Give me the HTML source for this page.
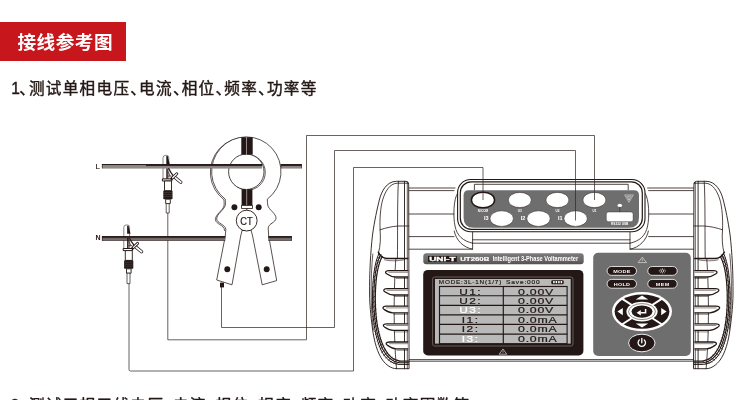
<!DOCTYPE html>
<html><head><meta charset="utf-8"><title>接线参考图</title>
<style>
html,body{margin:0;padding:0;background:#fff;}
body{width:750px;height:400px;overflow:hidden;font-family:"Liberation Sans","Noto Sans CJK SC",sans-serif;}
svg{display:block;will-change:transform;}
</style></head><body>
<svg width="750" height="400" viewBox="0 0 750 400">
<defs>
<linearGradient id="barL" x1="0" y1="0" x2="0" y2="1">
<stop offset="0" stop-color="#231815"/><stop offset="0.34" stop-color="#2e2421"/><stop offset="0.44" stop-color="#878280"/><stop offset="0.9" stop-color="#918d8c"/><stop offset="1" stop-color="#7a7573"/>
</linearGradient>
<linearGradient id="barL0" x1="0" y1="0" x2="0" y2="1">
<stop offset="0" stop-color="#231815"/><stop offset="0.25" stop-color="#2e2421"/><stop offset="0.33" stop-color="#8b8684"/><stop offset="0.9" stop-color="#918d8c"/><stop offset="1" stop-color="#7a7573"/>
</linearGradient>
<linearGradient id="barN" x1="0" y1="0" x2="0" y2="1">
<stop offset="0" stop-color="#231815"/><stop offset="0.4" stop-color="#3b3230"/><stop offset="0.6" stop-color="#8d8886"/><stop offset="0.78" stop-color="#6d6866"/><stop offset="1" stop-color="#2b211e"/>
</linearGradient>
</defs>
<rect x="0" y="22" width="126" height="39" fill="#c8161d"/>
<text x="17.6 36.6 55.7 74.8 93.9" y="48.8" font-family='"Liberation Sans","Noto Sans CJK SC",sans-serif' font-size="18.6" font-weight="700" fill="#fff">接线参考图</text>
<text x="11.2 19.3 28.9 45.8 62.7 79.6 96.5 113.4 130.3 139.1 156.0 172.9 181.7 198.6 215.5 224.3 241.2 258.1 266.9 283.8 300.7" y="94.4" font-family='"Liberation Sans","Noto Sans CJK SC",sans-serif' font-size="15.6" font-weight="400" fill="#231815" stroke="#231815" stroke-width="0.42" stroke-linejoin="round">1、测试单相电压、电流、相位、频率、功率等</text>
<text x="10.6 19.3 28.9 45.8 62.7 79.6 96.5 113.4 130.3 147.2 164.1 172.9 189.8 206.7 215.5 232.4 249.3 258.1 275.0 291.9 300.7 317.6 334.5 343.3 360.2 377.1 385.9 402.8 419.7 436.6 453.5" y="410.8" font-family='"Liberation Sans","Noto Sans CJK SC",sans-serif' font-size="15.6" font-weight="400" fill="#231815" stroke="#231815" stroke-width="0.42" stroke-linejoin="round">2、测试三相三线电压、电流、相位、相序、频率、功率、功率因数等</text>
<g id="bodylines" fill="none" stroke="#231815" stroke-width="0.8" stroke-linejoin="round" stroke-linecap="round">
<path d="M408.7,188 H455 M408.7,190.6 H454 M408.7,214 H454 M408.7,236.6 H454 M408.7,249.2 H472.6 V231.5"/>
<path d="M457.7,193 C453.2,199 453.2,218 455,226 C457,236 463,241 472.6,243.2"/>
<path d="M454.2,231 C456,240 463,247.5 472.6,249.2"/>
<path d="M693.8999999999999,188 H647.5999999999999 M693.8999999999999,190.6 H648.5999999999999 M693.8999999999999,214 H648.5999999999999 M693.8999999999999,236.6 H648.5999999999999 M693.8999999999999,249.2 H629.9999999999999 V231.5"/>
<path d="M644.8999999999999,193 C649.3999999999999,199 649.3999999999999,218 647.5999999999999,226 C645.5999999999999,236 639.5999999999999,241 629.9999999999999,243.2"/>
<path d="M648.3999999999999,231 C646.5999999999999,240 639.5999999999999,247.5 629.9999999999999,249.2"/>
<path d="M472.6,239.8 H629.9999999999999 M472.6,243.2 H629.9999999999999"/>
<path d="M408.7,359.6 H693.8999999999999 M408.7,361.2 H693.8999999999999"/>
</g>
<g id="housing">
<rect x="457.6" y="179.5" width="187.4" height="52.2" rx="13" ry="13" fill="#fff" stroke="#231815" stroke-width="1.1"/>
<rect x="460.3" y="181.8" width="182.0" height="47.5" rx="11" ry="11" fill="#fff" stroke="#231815" stroke-width="1.2"/>
<path d="M474.4,190.3 V184.3 H628.2 V190.3" fill="none" stroke="#231815" stroke-width="0.8"/>
<path d="M468.6,190.2 H633.9999999999999 Q638.9999999999999,190.2 638.9999999999999,195.2 V217.8 Q638.9999999999999,227.8 628.9999999999999,227.8 H473.6 Q463.6,227.8 463.6,217.8 V195.2 Q463.6,190.2 468.6,190.2 Z" fill="#6f6e6e"/>
<ellipse cx="483.0" cy="200" rx="11.6" ry="7.8" fill="#fff" stroke="#231815" stroke-width="1.5"/>
<ellipse cx="519.8" cy="200" rx="11.5" ry="7.6" fill="#fff" stroke="#231815" stroke-width="0.5"/>
<ellipse cx="557.4" cy="200" rx="11.5" ry="7.6" fill="#fff" stroke="#231815" stroke-width="0.5"/>
<ellipse cx="594.4" cy="200" rx="11.5" ry="7.6" fill="#fff" stroke="#231815" stroke-width="0.5"/>
<ellipse cx="501.7" cy="218.6" rx="11.7" ry="7.8" fill="#fff" stroke="#231815" stroke-width="0.5"/>
<ellipse cx="538.5" cy="218.6" rx="11.7" ry="7.8" fill="#fff" stroke="#231815" stroke-width="0.5"/>
<ellipse cx="575.6" cy="218.6" rx="11.7" ry="7.8" fill="#fff" stroke="#231815" stroke-width="0.5"/>
<text transform="translate(483.0,211.5) scale(1.05,1)" font-family='"Liberation Sans",sans-serif' font-size="3.0" font-weight="700" fill="#fff" text-anchor="middle" >N/COM</text>
<text transform="translate(519.8,211.5) scale(1.05,1)" font-family='"Liberation Sans",sans-serif' font-size="3.0" font-weight="700" fill="#fff" text-anchor="middle" >U3</text>
<text transform="translate(557.4,211.5) scale(1.05,1)" font-family='"Liberation Sans",sans-serif' font-size="3.0" font-weight="700" fill="#fff" text-anchor="middle" >U2</text>
<text transform="translate(594.4,211.5) scale(1.05,1)" font-family='"Liberation Sans",sans-serif' font-size="3.0" font-weight="700" fill="#fff" text-anchor="middle" >U1</text>
<text transform="translate(486.3,220.2) scale(1.1,1)" font-family='"Liberation Sans",sans-serif' font-size="5.0" font-weight="700" fill="#fff" text-anchor="middle" >I3</text>
<text transform="translate(523.1,220.2) scale(1.1,1)" font-family='"Liberation Sans",sans-serif' font-size="5.0" font-weight="700" fill="#fff" text-anchor="middle" >I2</text>
<text transform="translate(560.2,220.2) scale(1.1,1)" font-family='"Liberation Sans",sans-serif' font-size="5.0" font-weight="700" fill="#fff" text-anchor="middle" >I1</text>
<rect x="606.3" y="212" width="26.8" height="9.7" rx="2" fill="#fff" stroke="#231815" stroke-width="0.4"/>
<text transform="translate(619.7,225.4) scale(1.15,1)" font-family='"Liberation Sans",sans-serif' font-size="2.8" font-weight="700" fill="#fff" text-anchor="middle" >RS232 USB</text>
<ellipse cx="619.8" cy="205.4" rx="2.3" ry="1.7" fill="#fff"/>
<path d="M619.8,207 V212" stroke="#231815" stroke-width="0.5"/>
<path d="M624.6,194.9 H633.4 L629,202.4 Z M626.6,196.1 H631.4 L629,200.2 Z M629,196.1 V200.2" fill="none" stroke="#e8e8e8" stroke-width="0.55" stroke-linejoin="round"/>
</g>
<linearGradient id="lbg" x1="0" y1="0" x2="0" y2="1"><stop offset="0" stop-color="#7c7a7a"/><stop offset="0.6" stop-color="#6a6868"/><stop offset="1" stop-color="#545050"/></linearGradient>
<rect x="423.3" y="253.3" width="160.4" height="11" rx="3" fill="url(#lbg)"/>
<rect x="428" y="256" width="28.8" height="5.8" fill="#231815"/>
<text transform="translate(442.4,261.0) scale(1.72,1)" font-family='"Liberation Sans",sans-serif' font-size="5.8" font-weight="700" fill="#fff" text-anchor="middle" stroke="#fff" stroke-width="0.3">UNI-T</text>
<text transform="translate(460.2,261.2) scale(1.4,1)" font-family='"Liberation Sans",sans-serif' font-size="5.6" font-weight="700" fill="#fff" text-anchor="start" stroke="#fff" stroke-width="0.15">UT260B</text>
<text transform="translate(492.7,261.1) scale(0.81,1)" font-family='"Liberation Sans",sans-serif' font-size="7.0" font-weight="700" fill="#fff" text-anchor="start" >Intelligent 3-Phase Voltammeter</text>
<rect x="423.2" y="270" width="160.2" height="85.4" rx="4.5" fill="#231815"/>
<rect x="432.6" y="277.0" width="140.4" height="69.0" rx="2" fill="none" stroke="#6e6461" stroke-width="0.9"/>
<rect x="435" y="279" width="135.7" height="64.6" fill="#b9b9b9"/>
<text transform="translate(438.8,284.0) scale(1.3,1)" font-family='"Liberation Sans",sans-serif' font-size="4.9" font-weight="400" fill="#231815" text-anchor="start" letter-spacing="0.62" stroke="#231815" stroke-width="0.14">MODE:3L-1N(1/7)</text>
<text transform="translate(506.0,284.0) scale(1.35,1)" font-family='"Liberation Sans",sans-serif' font-size="4.9" font-weight="400" fill="#231815" text-anchor="start" letter-spacing="0.62" stroke="#231815" stroke-width="0.14">Save:000</text>
<rect x="551.3" y="280.2" width="12.4" height="4.0" rx="1.2" fill="#231815"/>
<path d="M553.9,281.1 V283.3 M556.4,281.1 V283.3 M558.9,281.1 V283.3 M561.4,281.1 V283.3" stroke="#fff" stroke-width="1.5"/>
<g stroke="#231815" stroke-width="1.15" fill="none">
<rect x="439.5" y="286.5" width="127.6" height="57.2"/>
<path d="M439.7,295.7 H567.3 M439.7,305.3 H567.3 M439.7,314.8 H567.3 M439.7,324.3 H567.3 M439.7,334.1 H567.3 M503.3,286.5 V343.7"/>
</g>
<text transform="translate(470.6,294.6) scale(1.42,1)" font-family='"Liberation Sans",sans-serif' font-size="8.4" font-weight="400" fill="#231815" text-anchor="middle" letter-spacing="1.0" stroke="#231815" stroke-width="0.2">U1:</text>
<text transform="translate(518.1,294.6) scale(1.47,1)" font-family='"Liberation Sans",sans-serif' font-size="8.4" font-weight="400" fill="#231815" text-anchor="start" letter-spacing="0.5" stroke="#231815" stroke-width="0.2">0.00V</text>
<text transform="translate(470.6,303.8) scale(1.42,1)" font-family='"Liberation Sans",sans-serif' font-size="8.4" font-weight="400" fill="#231815" text-anchor="middle" letter-spacing="1.0" stroke="#231815" stroke-width="0.2">U2:</text>
<text transform="translate(518.1,303.8) scale(1.47,1)" font-family='"Liberation Sans",sans-serif' font-size="8.4" font-weight="400" fill="#231815" text-anchor="start" letter-spacing="0.5" stroke="#231815" stroke-width="0.2">0.00V</text>
<text transform="translate(470.6,313.40000000000003) scale(1.42,1)" font-family='"Liberation Sans",sans-serif' font-size="8.4" font-weight="400" fill="#fff" text-anchor="middle" letter-spacing="1.0" stroke="#fff" stroke-width="0.2">U3:</text>
<text transform="translate(518.1,313.40000000000003) scale(1.47,1)" font-family='"Liberation Sans",sans-serif' font-size="8.4" font-weight="400" fill="#231815" text-anchor="start" letter-spacing="0.5" stroke="#231815" stroke-width="0.2">0.00V</text>
<text transform="translate(470.6,322.90000000000003) scale(1.42,1)" font-family='"Liberation Sans",sans-serif' font-size="8.4" font-weight="400" fill="#231815" text-anchor="middle" letter-spacing="1.0" stroke="#231815" stroke-width="0.2">I1:</text>
<text transform="translate(518.1,322.90000000000003) scale(1.47,1)" font-family='"Liberation Sans",sans-serif' font-size="8.4" font-weight="400" fill="#231815" text-anchor="start" letter-spacing="0.5" stroke="#231815" stroke-width="0.2">0.0mA</text>
<text transform="translate(470.6,332.40000000000003) scale(1.42,1)" font-family='"Liberation Sans",sans-serif' font-size="8.4" font-weight="400" fill="#231815" text-anchor="middle" letter-spacing="1.0" stroke="#231815" stroke-width="0.2">I2:</text>
<text transform="translate(518.1,332.40000000000003) scale(1.47,1)" font-family='"Liberation Sans",sans-serif' font-size="8.4" font-weight="400" fill="#231815" text-anchor="start" letter-spacing="0.5" stroke="#231815" stroke-width="0.2">0.0mA</text>
<text transform="translate(470.6,342.20000000000005) scale(1.42,1)" font-family='"Liberation Sans",sans-serif' font-size="8.4" font-weight="400" fill="#fff" text-anchor="middle" letter-spacing="1.0" stroke="#fff" stroke-width="0.2">I3:</text>
<text transform="translate(518.1,342.20000000000005) scale(1.47,1)" font-family='"Liberation Sans",sans-serif' font-size="8.4" font-weight="400" fill="#231815" text-anchor="start" letter-spacing="0.5" stroke="#231815" stroke-width="0.2">0.0mA</text>
<path d="M503.0,349.0 L506.8,354.20000000000005 H499.2 Z" fill="none" stroke="#ddd" stroke-width="0.7" stroke-linejoin="round"/><path d="M503.0,350.6 V352.80000000000007" stroke="#ddd" stroke-width="0.6"/>
<rect x="593.2" y="252.8" width="97.6" height="103.2" rx="5" fill="#6f6e6e"/>
<path d="M642.3,257.2 L646.5,262.59999999999997 H638.0999999999999 Z" fill="none" stroke="#ddd" stroke-width="0.7" stroke-linejoin="round"/><path d="M642.3,258.8 V261.2" stroke="#ddd" stroke-width="0.6"/>
<rect x="607.0999999999999" y="266.5" width="29.4" height="8.8" rx="4.4" fill="#231815" stroke="#fff" stroke-width="0.8"/><text transform="translate(622.0,272.65) scale(1.3,1)" font-family='"Liberation Sans",sans-serif' font-size="4.2" font-weight="700" fill="#fff" text-anchor="middle" letter-spacing="0.25">MODE</text>
<rect x="647.8" y="266.5" width="29.4" height="8.8" rx="4.4" fill="#231815" stroke="#fff" stroke-width="0.8"/>
<rect x="607.0999999999999" y="279.40000000000003" width="29.4" height="8.8" rx="4.4" fill="#231815" stroke="#fff" stroke-width="0.8"/><text transform="translate(622.0,285.55) scale(1.3,1)" font-family='"Liberation Sans",sans-serif' font-size="4.2" font-weight="700" fill="#fff" text-anchor="middle" letter-spacing="0.25">HOLD</text>
<rect x="647.8" y="279.40000000000003" width="29.4" height="8.8" rx="4.4" fill="#231815" stroke="#fff" stroke-width="0.8"/><text transform="translate(662.7,285.55) scale(1.3,1)" font-family='"Liberation Sans",sans-serif' font-size="4.2" font-weight="700" fill="#fff" text-anchor="middle" letter-spacing="0.25">MEM</text>
<g stroke="#fff" stroke-width="0.7" fill="none"><circle cx="662.4" cy="270.9" r="1.3"/><path d="M662.4,268.3 V269 M662.4,272.8 V273.5 M658.8,270.9 H660.2 M664.6,270.9 H666 M660.2,269 L660.9,269.6 M664.6,269 L663.9,269.6 M660.2,272.8 L660.9,272.2 M664.6,272.8 L663.9,272.2"/></g>
<ellipse cx="642.0" cy="311.6" rx="30" ry="19.6" fill="#fff"/>
<ellipse cx="642.0" cy="311.6" rx="27.4" ry="17.2" fill="#231815"/>
<path d="M621.5,298.40000000000003 L662.5,324.8 M662.5,298.40000000000003 L621.5,324.8" stroke="#fff" stroke-width="1.9"/>
<ellipse cx="642.0" cy="311.6" rx="15.6" ry="9.8" fill="#fff"/>
<ellipse cx="642.0" cy="311.6" rx="13.4" ry="8.0" fill="none" stroke="#231815" stroke-width="0.5"/>
<ellipse cx="642.0" cy="311.6" rx="10.5" ry="6.1" fill="#231815"/>
<path d="M617.4,311.6 L622.8,308.0 V315.20000000000005 Z M666.6,311.6 L661.2,308.0 V315.20000000000005 Z M642.0,295.6 L648.3,299.6 H635.7 Z M642.0,327.6 L648.3,323.6 H635.7 Z" fill="#fff"/>
<path d="M645.6,309.0 V312.8 H640.5" fill="none" stroke="#fff" stroke-width="1.5"/><path d="M636.6,312.8 L640.8,310.0 V315.6 Z" fill="#fff"/>
<ellipse cx="641.8" cy="343" rx="13.2" ry="8.8" fill="#231815" stroke="#fff" stroke-width="0.9"/>
<path d="M639.3,339.9 A3.7,3.7 0 1 0 644.3,339.9" fill="none" stroke="#fff" stroke-width="1.3" stroke-linecap="round"/><path d="M641.8,338.4 V342.8" stroke="#fff" stroke-width="1.3" stroke-linecap="round"/>
<g fill="none" stroke="#231815" stroke-width="0.8" stroke-linejoin="round" stroke-linecap="round"><path d="M408.7,368.7 L396.5,368.7 C391.0,368.6 386.0,364.8 382.5,360 C377.5,353 374.2,342 372.4,328 C370.6,314 369.7,304 369.6,295 C369.4,272 370.6,252 372.5,235 C374.5,221 377.0,209 379.6,199 C381.6,191.5 386.5,181.3 396.5,181.3 L406.0,181.3 Q408.7,181.3 408.7,184.5 Z" fill="#fff" stroke-width="0.9"/><path d="M373.4,330 C371.8,318 371.3,306 371.2,295 C371.0,280 371.6,266 372.8,254" stroke-width="0.7"/><path d="M378.6,252.5 C380.4,246 380.7,238 380.1,229.8 C379.6,218 380.6,207 382.6,200 C385.0,192 389.5,183.2 397.5,183.2 L408.7,183.2" stroke-width="0.8"/><path d="M379.0,253.5 C374.5,262 372.4,280 372.4,300 C372.6,322 375.6,338 381.0,350 C385.5,359 391.5,363.6 399.0,364.4 L408.7,364.4" stroke-width="1.0"/><path d="M380.5,255 C376.0,263.5 373.8,281 373.8,300 C374.0,321.5 377.0,337.2 382.6,349 C387.0,357.6 392.5,361.9 399.5,362.8 L408.7,362.8" stroke-width="1.1"/><path d="M382.2,256.5 C377.6,265 375.3,282 375.3,300 C375.5,321 378.5,336.5 384.2,348 C388.4,356.2 393.5,360.2 400.0,361.2 L408.7,361.2" stroke-width="1.2"/><path d="M371.9,303.78146410349854 L375.7,300.78146410349854 M372.1,308.2133063046648 L375.9,305.2133063046648 M372.3,312.4738292638483 L376.1,309.4738292638483 M372.6,316.5671875 L376.4,313.5671875 M373.0,320.49753553206995 L376.8,317.49753553206995 M373.4,324.2690278790087 L377.2,321.2690278790087 M374.0,327.88581905976673 L377.8,324.88581905976673 M374.6,331.3520635932944 L378.4,328.3520635932944 M375.3,334.6719159985423 L379.1,331.6719159985423 M376.1,337.84953079446063 L379.9,334.84953079446063 M377.0,340.8890625 L380.8,337.8890625 M377.9,343.79466563411074 L381.7,340.79466563411074 M379.0,346.57049471574345 L382.8,343.57049471574345 M380.1,349.2207042638484 L383.9,346.2207042638484 M381.7,352.2773688046647 L385.5,349.2773688046647 M383.7,355.44508017492717 L387.5,352.44508017492717 M385.9,358.1098760932944 L389.7,355.1098760932944 M388.2,360.2875 L392.0,357.2875 M390.7,361.9936953352769 L394.5,358.9936953352769 M393.3,363.24420553935863 L397.1,360.24420553935863 M396.1,364.05477405247814 L399.9,361.05477405247814 M378.1,257.94156250000003 L381.5,254.74156250000001 M376.9,261.0071875 L380.3,257.80718749999994 M375.9,264.5453125 L379.3,261.3453125 M374.9,268.5109375 L378.3,265.31093749999997 M374.1,272.85906250000005 L377.5,269.6590625 M373.4,277.5446875 L376.8,274.34468749999996 M372.9,282.5228125 L376.3,279.32281249999994 M372.5,287.7484375 L375.9,284.5484375 M372.2,293.17656250000005 L375.6,289.9765625 M372.1,298.76218750000004 L375.5,295.5621875" stroke-width="0.7"/><path d="M380.0,229.8 C386.0,227.8 392.0,226.4 398.6,226 L408.7,226"/><path d="M378.4,252.2 C380.0,256 383.0,258.3 387.5,258.5 L407.8,258.4" stroke-width="1.5"/><path d="M384.5,259.8 C390.0,261.4 398.0,261 404.4,259.8" stroke-width="0.6"/><path d="M398.4,181.3 C397.2,200 397.8,240 397.4,258" stroke-width="0.8"/><path d="M395.8,259 C394.0,285 393.0,330 396.5,368.7" stroke-width="0.8"/><path d="M404.5,181.3 V368.7" stroke-width="0.9"/><path d="M407.3,182 V368.7" stroke-width="0.7"/><path d="M407.8,270.6 L388.9,270.6 C384.8,270.6 384.8,272.8 387.0,274.0 C389.4,275.6 392.4,277.0 395.4,277.0 L407.8,277.0" fill="#fff" stroke-width="1.3"/><path d="M388.9,272.3 L407.6,272.3 M396.4,278.5 L407.6,278.5" stroke-width="0.5"/><path d="M407.8,288.6 L387.1,288.6 C383.0,288.6 383.0,290.8 385.2,292.0 C387.6,293.6 390.6,295.0 393.6,295.0 L407.8,295.0" fill="#fff" stroke-width="1.3"/><path d="M387.1,290.3 L407.6,290.3 M394.6,296.5 L407.6,296.5" stroke-width="0.5"/><path d="M407.8,306.2 L386.3,306.2 C382.2,306.2 382.2,308.4 384.4,309.59999999999997 C386.8,311.2 389.8,312.8 392.8,312.8 L407.8,312.8" fill="#fff" stroke-width="1.3"/><path d="M386.3,307.9 L407.6,307.9 M393.8,314.3 L407.6,314.3" stroke-width="0.5"/><path d="M407.8,323.8 L386.7,323.8 C382.6,323.8 382.6,326.0 384.8,327.2 C387.2,328.8 390.2,330.4 393.2,330.4 L407.8,330.4" fill="#fff" stroke-width="1.3"/><path d="M386.7,325.5 L407.6,325.5 M394.2,331.9 L407.6,331.9" stroke-width="0.5"/><path d="M407.8,342.0 L389.5,342.0 C385.4,342.0 385.4,344.2 387.6,345.4 C390.0,347.0 393.0,348.8 396.0,348.8 L407.8,348.8" fill="#fff" stroke-width="1.3"/><path d="M389.5,343.7 L407.6,343.7 M397.0,350.3 L407.6,350.3" stroke-width="0.5"/></g>
<g fill="none" stroke="#231815" stroke-width="0.8" stroke-linejoin="round" stroke-linecap="round"><path d="M693.9,368.7 L706.1,368.7 C711.6,368.6 716.6,364.8 720.1,360 C725.1,353 728.4,342 730.2,328 C732.0,314 732.9,304 733.0,295 C733.2,272 732.0,252 730.1,235 C728.1,221 725.6,209 723.0,199 C721.0,191.5 716.1,181.3 706.1,181.3 L696.6,181.3 Q693.9,181.3 693.9,184.5 Z" fill="#fff" stroke-width="0.9"/><path d="M729.2,330 C730.8,318 731.3,306 731.4,295 C731.6,280 731.0,266 729.8,254" stroke-width="0.7"/><path d="M724.0,252.5 C722.2,246 721.9,238 722.5,229.8 C723.0,218 722.0,207 720.0,200 C717.6,192 713.1,183.2 705.1,183.2 L693.9,183.2" stroke-width="0.8"/><path d="M723.6,253.5 C728.1,262 730.2,280 730.2,300 C730.0,322 727.0,338 721.6,350 C717.1,359 711.1,363.6 703.6,364.4 L693.9,364.4" stroke-width="1.0"/><path d="M722.1,255 C726.6,263.5 728.8,281 728.8,300 C728.6,321.5 725.6,337.2 720.0,349 C715.6,357.6 710.1,361.9 703.1,362.8 L693.9,362.8" stroke-width="1.1"/><path d="M720.4,256.5 C725.0,265 727.3,282 727.3,300 C727.1,321 724.1,336.5 718.4,348 C714.2,356.2 709.1,360.2 702.6,361.2 L693.9,361.2" stroke-width="1.2"/><path d="M730.7,303.78146410349854 L726.9,300.78146410349854 M730.5,308.2133063046648 L726.7,305.2133063046648 M730.3,312.4738292638483 L726.5,309.4738292638483 M730.0,316.5671875 L726.2,313.5671875 M729.6,320.49753553206995 L725.8,317.49753553206995 M729.2,324.2690278790087 L725.4,321.2690278790087 M728.6,327.88581905976673 L724.8,324.88581905976673 M728.0,331.3520635932944 L724.2,328.3520635932944 M727.3,334.6719159985423 L723.5,331.6719159985423 M726.5,337.84953079446063 L722.7,334.84953079446063 M725.6,340.8890625 L721.8,337.8890625 M724.7,343.79466563411074 L720.9,340.79466563411074 M723.6,346.57049471574345 L719.8,343.57049471574345 M722.5,349.2207042638484 L718.7,346.2207042638484 M720.9,352.2773688046647 L717.1,349.2773688046647 M718.9,355.44508017492717 L715.1,352.44508017492717 M716.7,358.1098760932944 L712.9,355.1098760932944 M714.4,360.2875 L710.6,357.2875 M711.9,361.9936953352769 L708.1,358.9936953352769 M709.3,363.24420553935863 L705.5,360.24420553935863 M706.5,364.05477405247814 L702.7,361.05477405247814 M724.5,257.94156250000003 L721.1,254.74156250000001 M725.7,261.0071875 L722.3,257.80718749999994 M726.7,264.5453125 L723.3,261.3453125 M727.7,268.5109375 L724.3,265.31093749999997 M728.5,272.85906250000005 L725.1,269.6590625 M729.2,277.5446875 L725.8,274.34468749999996 M729.7,282.5228125 L726.3,279.32281249999994 M730.1,287.7484375 L726.7,284.5484375 M730.4,293.17656250000005 L727.0,289.9765625 M730.5,298.76218750000004 L727.1,295.5621875" stroke-width="0.7"/><path d="M722.6,229.8 C716.6,227.8 710.6,226.4 704.0,226 L693.9,226"/><path d="M724.2,252.2 C722.6,256 719.6,258.3 715.1,258.5 L694.8,258.4" stroke-width="1.5"/><path d="M718.1,259.8 C712.6,261.4 704.6,261 698.2,259.8" stroke-width="0.6"/><path d="M704.2,181.3 C705.4,200 704.8,240 705.2,258" stroke-width="0.8"/><path d="M706.8,259 C708.6,285 709.6,330 706.1,368.7" stroke-width="0.8"/><path d="M698.1,181.3 V368.7" stroke-width="0.9"/><path d="M695.3,182 V368.7" stroke-width="0.7"/><path d="M694.8,270.6 L713.7,270.6 C717.8,270.6 717.8,272.8 715.6,274.0 C713.2,275.6 710.2,277.0 707.2,277.0 L694.8,277.0" fill="#fff" stroke-width="1.3"/><path d="M713.7,272.3 L695.0,272.3 M706.2,278.5 L695.0,278.5" stroke-width="0.5"/><path d="M694.8,288.6 L715.5,288.6 C719.6,288.6 719.6,290.8 717.4,292.0 C715.0,293.6 712.0,295.0 709.0,295.0 L694.8,295.0" fill="#fff" stroke-width="1.3"/><path d="M715.5,290.3 L695.0,290.3 M708.0,296.5 L695.0,296.5" stroke-width="0.5"/><path d="M694.8,306.2 L716.3,306.2 C720.4,306.2 720.4,308.4 718.2,309.59999999999997 C715.8,311.2 712.8,312.8 709.8,312.8 L694.8,312.8" fill="#fff" stroke-width="1.3"/><path d="M716.3,307.9 L695.0,307.9 M708.8,314.3 L695.0,314.3" stroke-width="0.5"/><path d="M694.8,323.8 L715.9,323.8 C720.0,323.8 720.0,326.0 717.8,327.2 C715.4,328.8 712.4,330.4 709.4,330.4 L694.8,330.4" fill="#fff" stroke-width="1.3"/><path d="M715.9,325.5 L695.0,325.5 M708.4,331.9 L695.0,331.9" stroke-width="0.5"/><path d="M694.8,342.0 L713.1,342.0 C717.2,342.0 717.2,344.2 715.0,345.4 C712.6,347.0 709.6,348.8 706.6,348.8 L694.8,348.8" fill="#fff" stroke-width="1.3"/><path d="M713.1,343.7 L695.0,343.7 M705.6,350.3 L695.0,350.3" stroke-width="0.5"/></g>
<g id="wires" fill="none" stroke="#2f2522" stroke-width="0.72">
<path d="M129,283.5 V369.5 Q129,371 130.5,371 H353.5 V167.5 H483 V200"/>
<path d="M167.8,213 V339.8 H306.5 V135.5 H594.5 V200"/>
<path d="M221.5,287 V327.5 H334.5 V150.5 H575.5 V220.5"/>
</g>
<g transform="translate(162.8,155.2)" stroke="#231815" stroke-linejoin="round"><path d="M0.2,24 V2.6 Q0.2,0.2 2.6,0.2 H4.0 Q6.0,0.2 6.0,2.6 V24 Z" fill="#fff" stroke="#6b6564" stroke-width="0.8"/><rect x="-0.4" y="23.7" width="9.4" height="2.1" fill="#fff" stroke-width="1.0"/><rect x="1.7" y="25.8" width="7.0" height="9.8" fill="#fff" stroke-width="0.9"/><rect x="0.5" y="35.4" width="9.2" height="8.6" rx="0.8" fill="#231815" stroke="none"/><path d="M1,37.4 H9.2 M1,39.4 H9.2 M1,41.4 H9.2" stroke="#fff" stroke-opacity="0.22" stroke-width="0.5" fill="none"/><rect x="2.9" y="44" width="4.6" height="4.4" fill="#fff" stroke-width="0.9"/><rect x="3.4" y="48.4" width="3.0" height="9.4" fill="#fff" stroke-width="0.7"/></g>
<g transform="translate(123.6,224.8)" stroke="#231815" stroke-linejoin="round"><path d="M0.2,24 V2.6 Q0.2,0.2 2.6,0.2 H4.0 Q6.0,0.2 6.0,2.6 V24 Z" fill="#fff" stroke="#6b6564" stroke-width="0.8"/><rect x="-0.4" y="23.7" width="9.4" height="2.1" fill="#fff" stroke-width="1.0"/><rect x="1.7" y="25.8" width="7.0" height="9.8" fill="#fff" stroke-width="0.9"/><rect x="0.5" y="35.4" width="9.2" height="8.6" rx="0.8" fill="#231815" stroke="none"/><path d="M1,37.4 H9.2 M1,39.4 H9.2 M1,41.4 H9.2" stroke="#fff" stroke-opacity="0.22" stroke-width="0.5" fill="none"/><rect x="2.9" y="44" width="4.6" height="4.4" fill="#fff" stroke-width="0.9"/><rect x="3.4" y="48.4" width="3.0" height="10.4" fill="#fff" stroke-width="0.7"/></g>
<g stroke="#231815" stroke-linejoin="round"><clipPath id="cpb"><rect x="200" y="130" width="100" height="101"/></clipPath><g clip-path="url(#cpb)"><path d="M225.3,199.2 A34.7,34.7 0 1 1 267.3,199.2 C267.6,201 267.2,203.5 267.8,205.5 C269,210 276.2,213.5 276,218.3 C275.8,222.5 268.6,223.5 268.2,228 L268.7,236 L276.7,280.6 L262.2,284.8 L252.6,236 L251.0,230 L242.2,230 L240.7,236 L232,284.8 L216.7,280 L225.3,236 L225.8,229.5 C225.6,224.5 216.9,223.5 216.7,219 C216.5,214 224,210 225.2,205.5 C225.8,203.5 225.2,201 225.3,199.2 Z" transform="translate(-1.3,0.6)" fill="#fff" stroke-width="0.7"/></g><path d="M225.3,199.2 A34.7,34.7 0 1 1 267.3,199.2 C267.6,201 267.2,203.5 267.8,205.5 C269,210 276.2,213.5 276,218.3 C275.8,222.5 268.6,223.5 268.2,228 L268.7,236 L276.7,280.6 L262.2,284.8 L252.6,236 L251.0,230 L242.2,230 L240.7,236 L232,284.8 L216.7,280 L225.3,236 L225.8,229.5 C225.6,224.5 216.9,223.5 216.7,219 C216.5,214 224,210 225.2,205.5 C225.8,203.5 225.2,201 225.3,199.2 Z" fill="#fff" stroke-width="0.75"/></g>
<g stroke="#231815"><circle cx="247.6" cy="172.4" r="17.7" fill="#fff" stroke-width="0.7"/><circle cx="246.3" cy="171.8" r="17.7" fill="#fff" stroke-width="0.8"/></g>
<rect x="102" y="164" width="44" height="4.5" fill="url(#barL0)"/>
<rect x="146" y="164" width="116" height="4.5" fill="url(#barL)"/>
<rect x="280.8" y="164" width="21.0" height="4.5" fill="url(#barL)"/>
<path d="M102.3,164 V168.3 M301.5,164 V168.3 M281,164 V168.3" stroke="#231815" stroke-width="0.6"/>
<rect x="102" y="236" width="123.30000000000001" height="4.8" fill="url(#barN)"/>
<rect x="268.2" y="236" width="23.600000000000023" height="4.8" fill="url(#barN)"/>
<path d="M102.3,236 V240.8 M291.5,236 V240.8" stroke="#231815" stroke-width="0.6"/>
<g transform="translate(162.8,155.2)" stroke="#231815" stroke-linejoin="round" stroke-linecap="round" fill="none"><path d="M3.5,0.9 L4.9,0.9 L6.9,8.9 L3.5,8.9 Z" fill="#231815" stroke="none"/><path d="M3.5,13.2 H5.0 V23.6 H3.5 Z" fill="#231815" stroke="none"/><path d="M5.9,13.4 L8.2,17.4 L10.4,20.4" stroke-width="1.2"/><path d="M5.2,16.6 L7.2,20.6 M5.2,20.9 H8.4" stroke-width="0.7"/><path d="M11.4,21.6 L18.0,27.0" stroke-width="3.3"/><path d="M11.8,21.9 L18.0,27.0" stroke="#fff" stroke-width="1.8"/><path d="M8.9,23.4 L14.0,18.6" stroke-width="2.9"/><path d="M9.8,22.6 L14.0,18.6" stroke="#fff" stroke-width="1.2"/></g>
<g transform="translate(123.6,224.8)" stroke="#231815" stroke-linejoin="round" stroke-linecap="round" fill="none"><path d="M3.5,0.9 L4.9,0.9 L6.9,8.9 L3.5,8.9 Z" fill="#231815" stroke="none"/><path d="M3.5,13.2 H5.0 V23.6 H3.5 Z" fill="#231815" stroke="none"/><path d="M5.9,13.4 L8.2,17.4 L10.4,20.4" stroke-width="1.2"/><path d="M5.2,16.6 L7.2,20.6 M5.2,20.9 H8.4" stroke-width="0.7"/><path d="M11.4,21.6 L18.0,27.0" stroke-width="3.3"/><path d="M11.8,21.9 L18.0,27.0" stroke="#fff" stroke-width="1.8"/><path d="M8.9,23.4 L14.0,18.6" stroke-width="2.9"/><path d="M9.8,22.6 L14.0,18.6" stroke="#fff" stroke-width="1.2"/></g>
<g><rect x="241.3" y="137.2" width="11.4" height="17.4" fill="#231815"/><rect x="246.1" y="137.2" width="0.6" height="17.4" fill="#fff" opacity="0.85"/><rect x="241.6" y="189.2" width="10.8" height="16.2" fill="#231815"/><rect x="246.5" y="189.2" width="0.6" height="16.2" fill="#fff" opacity="0.85"/><rect x="241.6" y="205.4" width="10.8" height="3.1" fill="#fff" stroke="#231815" stroke-width="0.8"/><path d="M246.8,208.5 V211" stroke="#231815" stroke-width="0.8"/><circle cx="246.7" cy="220.6" r="10.4" fill="#fff" stroke="#231815" stroke-width="0.9"/><text transform="translate(246.5,224.6) scale(0.93,1)" text-anchor="middle" font-family='"Liberation Sans",sans-serif' font-size="10" fill="#231815" stroke="#231815" stroke-width="0.2">CT</text><circle cx="234.4" cy="207.3" r="2.95" fill="#231815"/><circle cx="258.7" cy="207.3" r="2.95" fill="#231815"/><circle cx="227.3" cy="269.3" r="2.95" fill="#231815"/><circle cx="266.7" cy="269.3" r="2.95" fill="#231815"/><rect x="220" y="282.6" width="4" height="4.8" fill="#231815"/></g>
<text x="95.4" y="168.6" font-family='"Liberation Sans",sans-serif' font-size="7.6" fill="#231815" stroke="#231815" stroke-width="0.2">L</text>
<text x="95.6" y="240.4" font-family='"Liberation Sans",sans-serif' font-size="7" font-weight="700" fill="#231815">N</text>
</svg>
</body></html>
